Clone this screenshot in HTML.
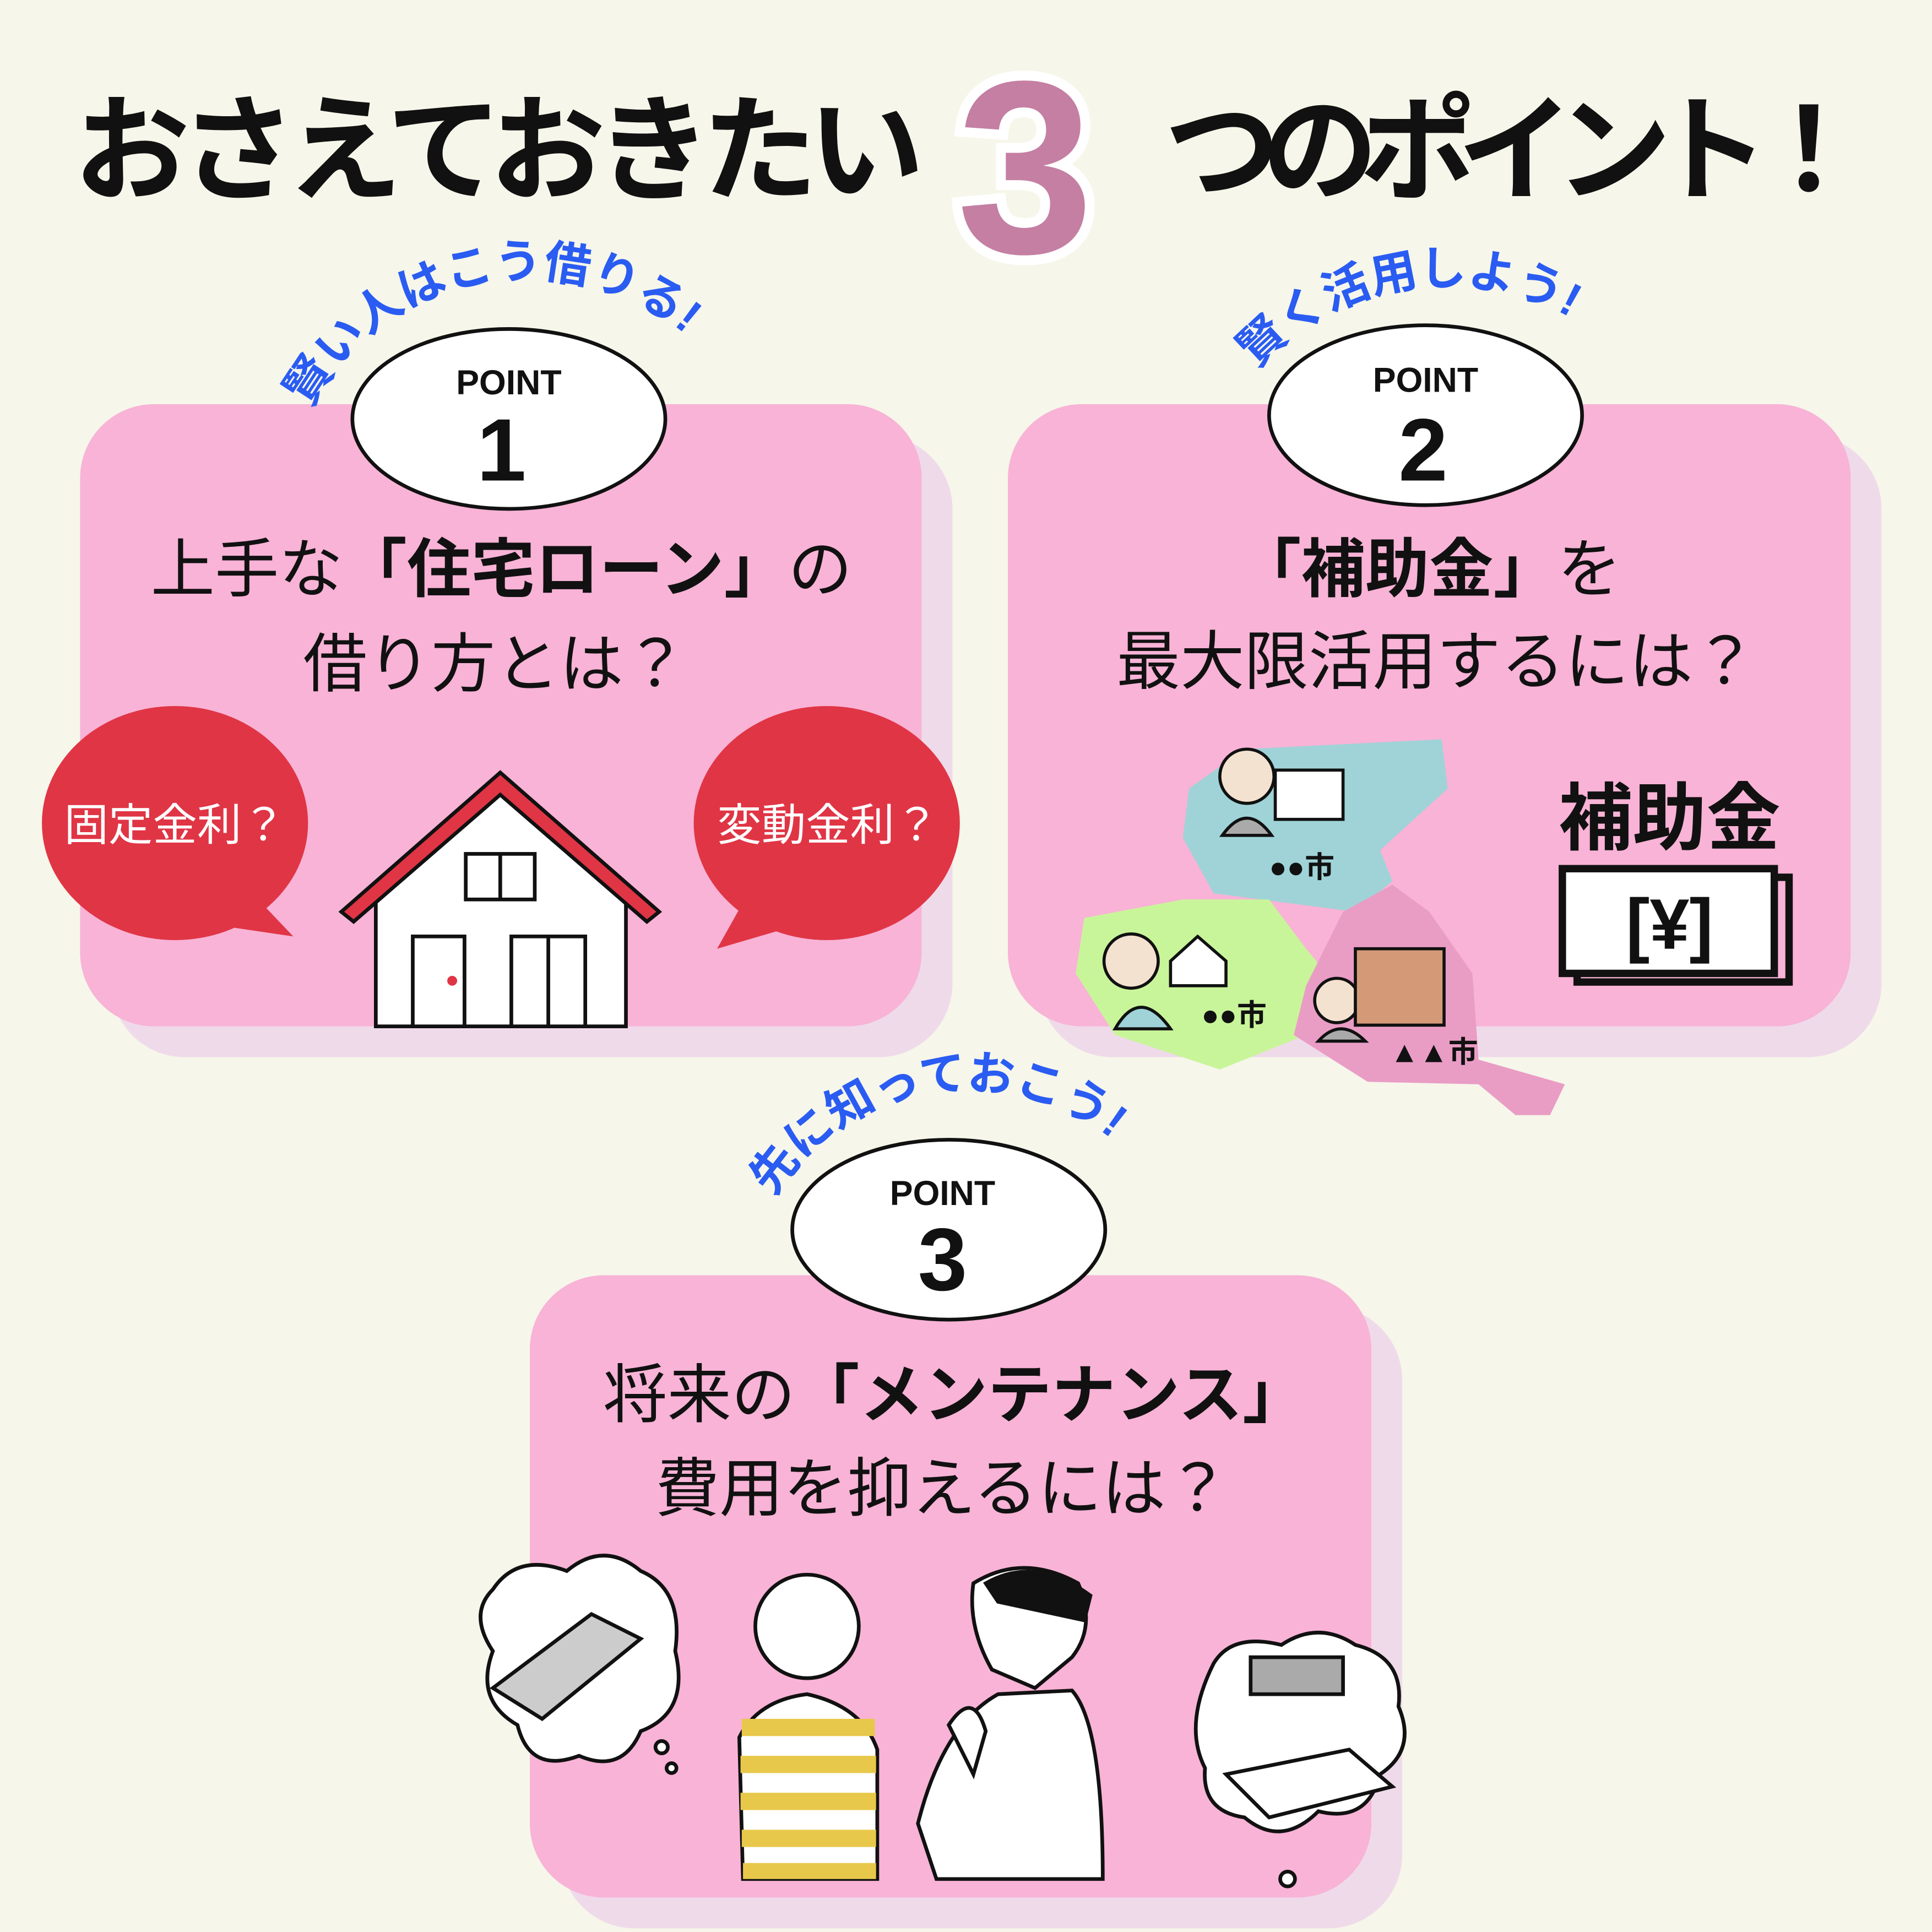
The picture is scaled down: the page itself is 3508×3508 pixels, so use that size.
<!DOCTYPE html>
<html><head><meta charset="utf-8"><style>
html,body{margin:0;padding:0;background:#f6f6ea}
svg{display:block}
text{font-family:"Liberation Sans","Noto Sans CJK JP",sans-serif}
</style></head><body>
<svg width="3508" height="3508" viewBox="0 0 1568 1568" xmlns="http://www.w3.org/2000/svg">
<rect width="1568" height="1568" fill="#f6f6ea"/>
<!-- title -->
<text x="60" y="155" font-size="94" font-weight="bold" fill="#111" textLength="690">おさえておきたい</text>
<text x="832" y="205" font-size="200" font-weight="bold" fill="#c47fa3" stroke="#fff" stroke-width="16" paint-order="stroke" text-anchor="middle">3</text>
<text x="945" y="155" font-size="94" font-weight="bold" fill="#111" textLength="570">つのポイント！</text>

<!-- cards shadows -->
<rect x="90" y="353" width="683" height="505" rx="60" fill="#efdaea"/>
<rect x="843" y="353" width="684" height="505" rx="60" fill="#efdaea"/>
<rect x="455" y="1060" width="683" height="505" rx="60" fill="#efdaea"/>
<rect x="65" y="328" width="683" height="505" rx="60" fill="#f8b3d6"/>
<rect x="818" y="328" width="684" height="505" rx="60" fill="#f8b3d6"/>
<rect x="430" y="1035" width="683" height="505" rx="60" fill="#f8b3d6"/>

<defs>
<path id="a1" d="M252,332 A200,200 0 0 1 600,322"/>
<path id="a2" d="M1020,300 A205,205 0 0 1 1322,295"/>
<path id="a3" d="M628,972 A187,187 0 0 1 945,972"/>
</defs>
<g font-size="38" fill="#2a5cf2" font-weight="bold">
<text><textPath href="#a1">賢い人はこう借りる!</textPath></text>
<text><textPath href="#a2">賢く活用しよう!</textPath></text>
<text><textPath href="#a3">先に知っておこう!</textPath></text>
</g>

<!-- point ellipses -->
<g stroke="#111" stroke-width="3" fill="#fff">
<ellipse cx="413" cy="340" rx="127" ry="73"/>
<ellipse cx="1157" cy="337" rx="127" ry="73"/>
<ellipse cx="770" cy="998" rx="127" ry="73"/>
</g>
<g font-weight="bold" fill="#111" text-anchor="middle">
<text x="413" y="320" font-size="28">POINT</text><text x="407" y="390" font-size="72">1</text>
<text x="1157" y="318" font-size="28">POINT</text><text x="1155" y="390" font-size="72">2</text>
<text x="765" y="978" font-size="28">POINT</text><text x="765" y="1047" font-size="72">3</text>
</g>

<!-- card texts -->
<g font-size="52" fill="#111" text-anchor="middle">
<text x="407" y="480">上手な<tspan font-weight="bold">「住宅ローン」</tspan>の</text>
<text x="402" y="557">借り方とは？</text>
<text x="1160" y="480"><tspan font-weight="bold">「補助金」</tspan>を</text>
<text x="1166" y="555">最大限活用するには？</text>
<text x="775" y="1150">将来の<tspan font-weight="bold">「メンテナンス」</tspan></text>
<text x="765" y="1226">費用を抑えるには？</text>
</g>
<g fill="#e03545">
<ellipse cx="142" cy="668" rx="108" ry="95"/><path d="M200,720 L238,760 L170,750Z"/>
<ellipse cx="671" cy="668" rx="108" ry="95"/><path d="M610,720 L582,770 L650,750Z"/>
</g>
<text x="142" y="682" font-size="36" fill="#fff" text-anchor="middle">固定金利？</text>
<text x="672" y="682" font-size="36" fill="#fff" text-anchor="middle">変動金利？</text>
<!-- house -->
<g stroke="#111" stroke-width="3">
<path d="M305,720 L406,640 L508,720 L508,833 L305,833Z" fill="#fff"/>
<path d="M277,740 L406,627 L535,740 L525,748 L406,645 L287,748Z" fill="#e03545"/>
<rect x="378" y="693" width="56" height="37" fill="#fff"/><line x1="406" y1="693" x2="406" y2="730"/>
<rect x="335" y="760" width="42" height="73" fill="#fff"/>
<rect x="415" y="760" width="60" height="73" fill="#fff"/><line x1="445" y1="760" x2="445" y2="833"/>
</g>
<circle cx="367" cy="796" r="4" fill="#e03545"/>

<!-- card 2 maps -->
<path d="M965,640 L1010,608 L1170,600 L1175,640 L1120,690 L1130,715 L1100,740 L985,725 L960,680Z" fill="#9fd3d8"/>
<path d="M880,745 L960,730 L1030,730 L1060,770 L1085,800 L1060,840 L990,868 L905,840 L873,790Z" fill="#c9f59a"/>
<path d="M1090,740 L1130,718 L1160,740 L1195,790 L1200,860 L1270,880 L1258,905 L1230,905 L1200,880 L1110,878 L1050,840 L1060,800Z" fill="#e99dc5"/>
<g font-size="24" font-weight="bold" fill="#111">
<text x="1030" y="712">●●市</text><text x="975" y="832">●●市</text><text x="1128" y="862">▲▲市</text>
</g>
<g stroke="#111" stroke-width="2.5" fill="#fff">
<circle cx="1012" cy="630" r="22" fill="#f4e2d0"/><path d="M992,678 Q1012,650 1032,678Z" fill="#aaa"/>
<rect x="1035" y="625" width="55" height="40"/>
<circle cx="918" cy="780" r="22" fill="#f4e2d0"/><path d="M905,835 Q925,800 950,835Z" fill="#9fd3d8"/>
<path d="M950,780 L972,760 L995,780 L995,800 L950,800Z"/>
<circle cx="1085" cy="812" r="18" fill="#f4e2d0"/><path d="M1070,845 Q1088,825 1108,845Z" fill="#aaa"/>
<rect x="1100" y="770" width="72" height="62" fill="#d49a78"/>
</g>
<text x="1355" y="685" font-size="60" font-weight="bold" fill="#111" text-anchor="middle">補助金</text>
<g stroke="#111" stroke-width="6" fill="none">
<rect x="1280" y="712" width="172" height="85"/>
<rect x="1268" y="705" width="172" height="85" fill="#fff"/>
</g>
<text x="1355" y="770" font-size="58" font-weight="bold" fill="#111" text-anchor="middle">[¥]</text>

<!-- card 3 illustrations -->
<g stroke="#111" stroke-width="3" fill="#fff">
<path d="M400,1290 Q420,1260 460,1275 Q490,1250 520,1275 Q555,1290 548,1340 Q560,1390 520,1405 Q505,1440 470,1425 Q430,1440 420,1400 Q385,1380 400,1340 Q380,1310 400,1290Z"/>
<path d="M400,1370 L480,1310 L520,1330 L440,1395Z" fill="#ccc"/>
<circle cx="537" cy="1418" r="5"/><circle cx="545" cy="1435" r="4"/>
<path d="M985,1350 Q1000,1325 1040,1335 Q1070,1315 1100,1335 Q1140,1345 1135,1385 Q1150,1420 1120,1440 Q1110,1480 1070,1470 Q1040,1500 1010,1475 Q975,1470 978,1435 Q960,1400 985,1350Z"/>
<rect x="1015" y="1345" width="75" height="30" fill="#aaa"/>
<path d="M995,1440 L1095,1420 L1130,1450 L1030,1475Z"/>
<circle cx="1045" cy="1525" r="6"/>
<circle cx="655" cy="1320" r="42"/>
<path d="M603,1525 L600,1410 Q615,1380 655,1375 Q700,1385 712,1420 L712,1525Z" fill="#fff"/>
<g stroke="none" fill="#e8c84a">
<rect x="602" y="1395" width="108" height="14"/><rect x="601" y="1425" width="110" height="14"/>
<rect x="601" y="1455" width="110" height="14"/><rect x="602" y="1485" width="109" height="14"/><rect x="603" y="1512" width="108" height="13"/>
</g>
<path d="M790,1285 Q830,1260 875,1285 Q890,1320 870,1345 L840,1370 L805,1355 Q785,1320 790,1285Z"/>
<path d="M800,1285 Q840,1262 885,1295 L880,1315 L810,1300Z" fill="#111"/>
<path d="M745,1480 Q765,1400 810,1375 L870,1372 Q895,1400 895,1525 L760,1525Z"/>
<path d="M770,1400 Q790,1370 800,1405 L790,1440Z"/>
</g>
</svg>
</body></html>
